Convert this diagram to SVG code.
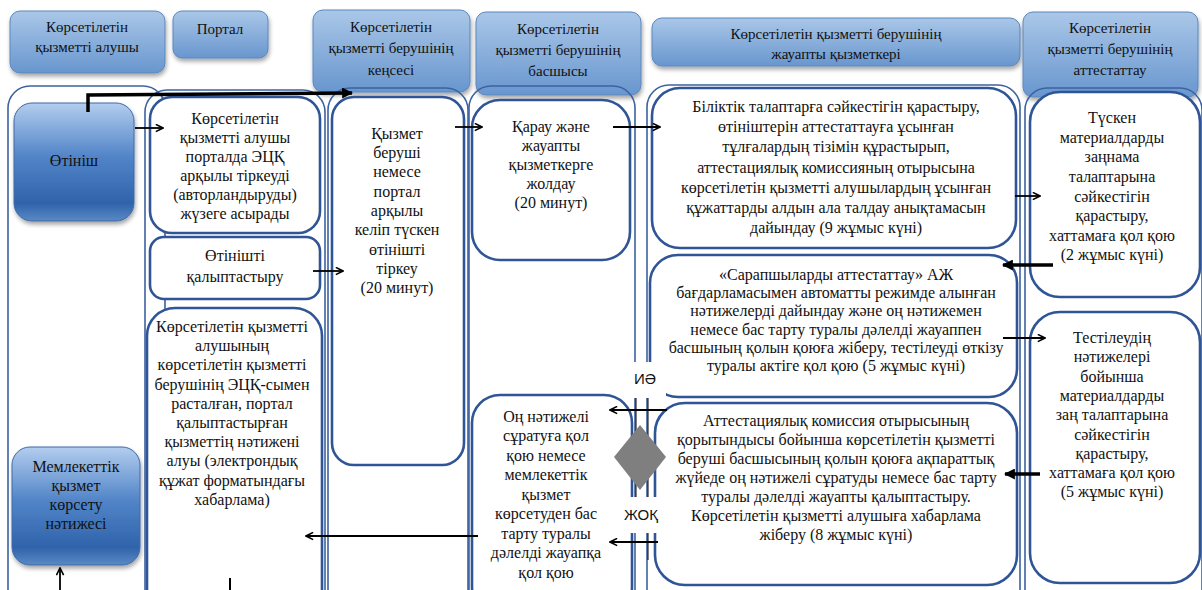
<svg xmlns="http://www.w3.org/2000/svg" width="1202" height="590" viewBox="0 0 1202 590">
<defs>
<linearGradient id="hdr" x1="0" y1="0" x2="0" y2="1">
<stop offset="0" stop-color="#aac7e8"/>
<stop offset="1" stop-color="#6896ce"/>
</linearGradient>
<linearGradient id="blu" x1="0" y1="0" x2="0" y2="1">
<stop offset="0" stop-color="#b3cdee"/>
<stop offset="0.45" stop-color="#5285c8"/>
<stop offset="0.85" stop-color="#2f63ab"/>
<stop offset="1" stop-color="#5b89c4"/>
</linearGradient>
<filter id="sh" x="-10%" y="-10%" width="130%" height="140%">
<feDropShadow dx="1" dy="3" stdDeviation="2" flood-color="#000" flood-opacity="0.35"/>
</filter>
<marker id="open" viewBox="0 0 10 10" refX="9" refY="5" markerWidth="9" markerHeight="9" markerUnits="userSpaceOnUse" orient="auto">
<path d="M1,1 L9,5 L1,9" fill="none" stroke="#000" stroke-width="1.8"/>
</marker>
<marker id="fill" viewBox="0 0 10 10" refX="9" refY="5" markerWidth="11" markerHeight="11" markerUnits="userSpaceOnUse" orient="auto">
<path d="M0,0 L10,5 L0,10 Z" fill="#000"/>
</marker>
<style>
.hdr{fill:url(#hdr);stroke:#5b87bd;stroke-width:1;filter:url(#sh)}
.lane{fill:none;stroke:#3d62a0;stroke-width:1.6}
.box{fill:#fff;stroke:#2f5597;stroke-width:2.6}
.bnode{fill:url(#blu);stroke:#3e6aa8;stroke-width:1;filter:url(#sh)}
text{font-family:"Liberation Serif","DejaVu Serif",serif;font-size:16px;fill:#111;text-anchor:middle}
.h{font-size:15px}
.lbl{font-family:"Liberation Sans","DejaVu Sans",sans-serif;font-size:15px}
.thin{stroke:#000;stroke-width:1.8;fill:none;marker-end:url(#open)}
.thick{stroke:#000;stroke-width:3.5;fill:none;marker-end:url(#fill)}
</style>
</defs>
<rect width="1202" height="590" fill="#fff"/>

<g id="headers">
<g id="h1"><rect class="hdr" x="10" y="11" width="155" height="62" rx="10"/>
<text class="h" x="87" y="32">Көрсетілетін</text><text class="h" x="87" y="52">қызметті  алушы</text></g>
<g id="h2"><rect class="hdr" x="173" y="11" width="95" height="47" rx="9"/>
<text class="h" x="220" y="34">Портал</text></g>
<g id="h3"><rect class="hdr" x="313" y="10" width="157" height="82" rx="10"/>
<text class="h" x="391" y="32">Көрсетілетін</text><text class="h" x="391" y="53">қызметті берушінің</text><text class="h" x="391" y="75">кеңсесі</text></g>
<g id="h4"><rect class="hdr" x="476" y="12" width="165" height="83" rx="10"/>
<text class="h" x="558" y="34">Көрсетілетін</text><text class="h" x="558" y="55">қызметті берушінің</text><text class="h" x="558" y="76">басшысы</text></g>
<g id="h5"><rect class="hdr" x="652" y="18" width="368" height="48" rx="10"/>
<text class="h" x="836" y="39">Көрсетілетін  қызметті берушінің</text><text class="h" x="836" y="59">жауапты қызметкері</text></g>
<g id="h6"><rect class="hdr" x="1023" y="12" width="175" height="85" rx="10"/>
<text class="h" x="1110" y="33">Көрсетілетін</text><text class="h" x="1110" y="54">қызметті берушінің</text><text class="h" x="1110" y="75">аттестаттау</text></g>
</g>

<g id="lanes">
<rect class="lane" x="8" y="86" width="157" height="530" rx="22"/>
<rect class="lane" x="145" y="90" width="180" height="530" rx="22"/>
<rect class="lane" x="328" y="88" width="140" height="530" rx="22"/>
<rect class="lane" x="469" y="86" width="166" height="530" rx="22"/>
<rect class="lane" x="647" y="85" width="373" height="530" rx="22"/>
<rect class="lane" x="1025" y="88" width="177" height="530" rx="22"/>
</g>

<g id="n-otinish"><rect class="bnode" x="14" y="103" width="120" height="118" rx="18"/>
<text x="74" y="166">Өтініш</text></g>

<g id="n-natizhe"><rect class="bnode" x="12" y="447" width="128" height="118" rx="18"/>
<text x="76" y="472">Мемлекеттік</text><text x="76" y="491">қызмет</text><text x="76" y="510">көрсету</text><text x="76" y="529">нәтижесі</text></g>

<g id="n-portal-tirkeu"><rect class="box" x="150" y="97" width="170" height="136" rx="22"/>
<text x="235" y="124">Көрсетілетін</text><text x="235" y="143">қызметті алушы</text><text x="235" y="162">порталда ЭЦҚ</text><text x="235" y="181">арқылы тіркеуді</text><text x="235" y="200">(авторландыруды)</text><text x="235" y="219">жүзеге асырады</text></g>

<g id="n-kalyptastyru"><rect class="box" x="150" y="237" width="170" height="62" rx="14"/>
<text x="235" y="261">Өтінішті</text><text x="235" y="282">қалыптастыру</text></g>

<g id="n-aluy"><rect class="box" x="147" y="308" width="175" height="310" rx="28"/>
<text x="232" y="332">Көрсетілетін қызметті</text><text x="232" y="351">алушының</text><text x="232" y="370">көрсетілетін қызметті</text><text x="232" y="390">берушінің ЭЦҚ-сымен</text><text x="232" y="409">расталған, портал</text><text x="232" y="428">қалыптастырған</text><text x="232" y="447">қызметтің нәтижені</text><text x="232" y="466">алуы (электрондық</text><text x="232" y="486">құжат форматындағы</text><text x="232" y="505">хабарлама)</text></g>

<g id="n-kense"><rect class="box" x="332" y="97" width="132" height="368" rx="22"/>
<text x="397" y="139">Қызмет</text><text x="397" y="158">беруші</text><text x="397" y="177">немесе</text><text x="397" y="197">портал</text><text x="397" y="216">арқылы</text><text x="397" y="235">келіп түскен</text><text x="397" y="255">өтінішті</text><text x="397" y="274">тіркеу</text><text x="397" y="293">(20 минут)</text></g>

<g id="n-karau"><rect class="box" x="472" y="100" width="158" height="160" rx="28"/>
<text x="551" y="132">Қарау және</text><text x="551" y="151">жауапты</text><text x="551" y="170">қызметкерге</text><text x="551" y="189">жолдау</text><text x="551" y="208">(20 минут)</text></g>

<g id="n-on-natizheli"><rect class="box" x="472" y="395" width="160" height="220" rx="28"/>
<text x="546" y="422">Оң нәтижелі</text><text x="546" y="441">сұратуға қол</text><text x="546" y="461">қою немесе</text><text x="546" y="480">мемлекеттік</text><text x="546" y="500">қызмет</text><text x="546" y="519">көрсетуден бас</text><text x="546" y="539">тарту туралы</text><text x="546" y="558">дәлелді жауапқа</text><text x="546" y="578">қол қою</text></g>

<g id="n-biliktik"><rect class="box" x="652" y="88" width="364" height="160" rx="28"/>
<text x="836" y="112">Біліктік талаптарға сәйкестігін қарастыру,</text><text x="836" y="132">өтініштерін аттестаттауға ұсынған</text><text x="836" y="152">тұлғалардың тізімін құрастырып,</text><text x="836" y="173">аттестациялық комиссияның отырысына</text><text x="836" y="193">көрсетілетін қызметті алушылардың ұсынған</text><text x="836" y="213">құжаттарды алдын ала талдау анықтамасын</text><text x="836" y="233">дайындау (9 жұмыс күні)</text></g>

<g id="n-sarapshy"><rect class="box" x="650" y="255" width="367" height="142" rx="28"/>
<text x="836" y="280">«Сарапшыларды аттестаттау» АЖ</text><text x="836" y="298">бағдарламасымен автоматты режимде алынған</text><text x="836" y="316">нәтижелерді дайындау және оң нәтижемен</text><text x="836" y="335">немесе бас тарту туралы дәлелді жауаппен</text><text x="836" y="353">басшының қолын қоюға жіберу, тестілеуді өткізу</text><text x="836" y="371">туралы актіге қол қою (5 жұмыс күні)</text></g>

<g id="n-attestaciyalyk"><rect class="box" x="655" y="403" width="362" height="182" rx="30"/>
<text x="836" y="426">Аттестациялық комиссия отырысының</text><text x="836" y="445">қорытындысы бойынша көрсетілетін қызметті</text><text x="836" y="464">беруші басшысының қолын қоюға ақпараттық</text><text x="836" y="483">жүйеде оң нәтижелі сұратуды немесе бас тарту</text><text x="836" y="502">туралы дәлелді жауапты қалыптастыру.</text><text x="836" y="521">Көрсетілетін қызметті алушыға хабарлама</text><text x="836" y="540">жіберу (8 жұмыс күні)</text></g>

<g id="n-tusken"><rect class="box" x="1030" y="92" width="170" height="205" rx="30"/>
<text x="1112" y="123">Түскен</text><text x="1112" y="143">материалдарды</text><text x="1112" y="162">заңнама</text><text x="1112" y="182">талаптарына</text><text x="1112" y="202">сәйкестігін</text><text x="1112" y="221">қарастыру,</text><text x="1112" y="241">хаттамаға қол қою</text><text x="1112" y="260">(2 жұмыс күні)</text></g>

<g id="n-testileu"><rect class="box" x="1030" y="312" width="170" height="271" rx="30"/>
<text x="1112" y="343">Тестілеудің</text><text x="1112" y="362">нәтижелері</text><text x="1112" y="382">бойынша</text><text x="1112" y="401">материалдарды</text><text x="1112" y="420">заң талаптарына</text><text x="1112" y="440">сәйкестігін</text><text x="1112" y="459">қарастыру,</text><text x="1112" y="478">хаттамаға қол қою</text><text x="1112" y="497">(5 жұмыс күні)</text></g>

<g id="n-decision">
<rect x="622" y="362" width="44" height="36" fill="#fff"/>
<rect x="616" y="497" width="52" height="36" fill="#fff"/>
<line x1="636" y1="398" x2="636" y2="497" stroke="#000" stroke-width="1"/>
<line x1="648" y1="398" x2="648" y2="497" stroke="#000" stroke-width="1"/>
<line x1="648" y1="533" x2="648" y2="560" stroke="#000" stroke-width="1"/>
<polygon points="640,425 666,457 640,490 614,457" fill="#7f7f7f"/>
<text class="lbl" x="645" y="384">ИӘ</text>
<text class="lbl" x="641" y="520">ЖОҚ</text>
</g>

<g id="connectors">
<polyline class="thick" points="88,112 88,95 352,93"/>
<line class="thin" x1="135" y1="128" x2="163" y2="128"/>
<line class="thin" x1="313" y1="271" x2="343" y2="271"/>
<line class="thin" x1="455" y1="127" x2="482" y2="127"/>
<line class="thin" x1="613" y1="127" x2="660" y2="127"/>
<line class="thin" x1="1015" y1="196" x2="1040" y2="196"/>
<line class="thick" x1="1053" y1="265" x2="1003" y2="265"/>
<line class="thin" x1="1003" y1="338" x2="1045" y2="338"/>
<line class="thick" x1="1040" y1="474" x2="1005" y2="474"/>
<line class="thin" x1="667" y1="410" x2="610" y2="410"/>
<line class="thin" x1="658" y1="542" x2="610" y2="542"/>
<line class="thin" x1="478" y1="536" x2="306" y2="536"/>
<line class="thin" x1="60" y1="590" x2="60" y2="568"/>
<line x1="230" y1="578" x2="230" y2="590" stroke="#000" stroke-width="2"/>
</g>
</svg>
